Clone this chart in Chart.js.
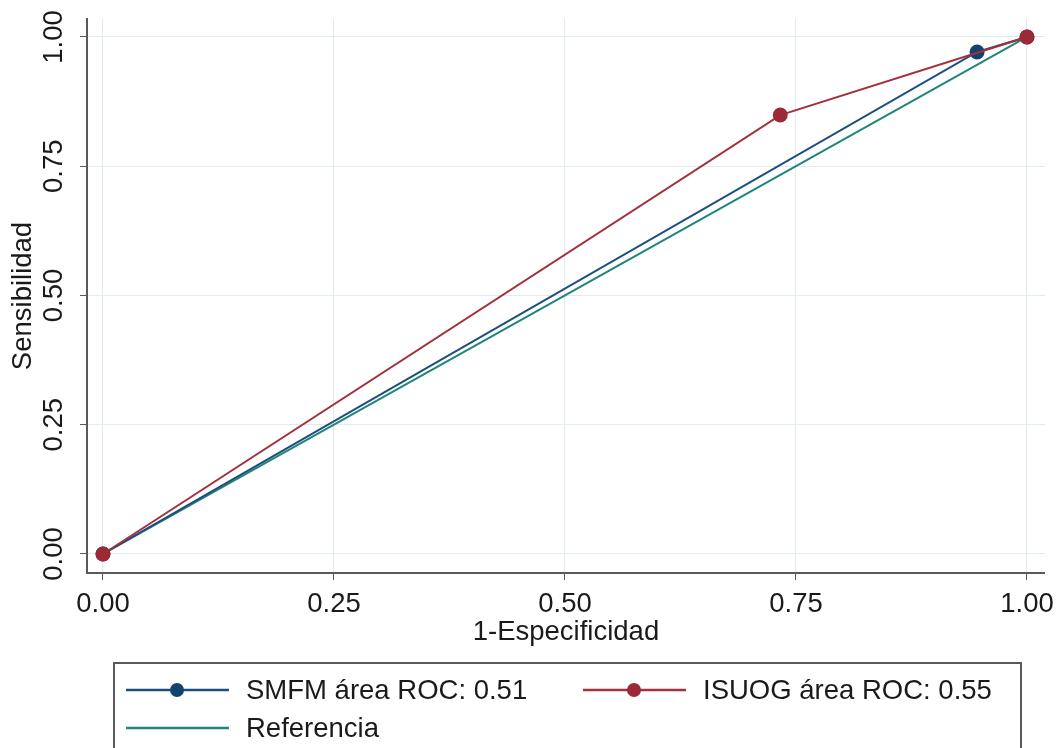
<!DOCTYPE html>
<html>
<head>
<meta charset="utf-8">
<script src="https://cdn.jsdelivr.net/npm/chart.js@4.4.1/dist/chart.umd.min.js"></script>
<style>
    html, body { margin: 0; padding: 0; background: #fff; }
    #rocChart { display: block; }
</style>
</head>
<body>
<canvas id="rocChart" width="1062" height="748"></canvas>
<script>
// curvas ROC (1-especificidad, sensibilidad)
const smfmX = [0, 0.946, 1];
const smfmY = [0, 0.971, 1];
const isuogX = [0, 0.733, 1];
const isuogY = [0, 0.849, 1];
const refX = [0, 1];
const refY = [0, 1];
const tickValues = [0, 0.25, 0.5, 0.75, 1];
const seriesLabels = ['SMFM área ROC: 0.51', 'ISUOG área ROC: 0.55', 'Referencia'];

const FONT = "'Liberation Sans', Arial, Helvetica, sans-serif";
const FS = 27.5;
const textColor = '#1a1a1a';
const blue = '#1d4f7e';
const red = '#a3303c';
const teal = '#1f8679';
const axisGray = '#5a5a5a';
const gridColor = '#e2ecef';

function toPoints(xs, ys) {
    return xs.map((x, i) => ({ x: x, y: ys[i] }));
}

// leyenda y etiquetas del eje Y dibujadas a mano
const extras = {
    id: 'extras',
    afterDraw(chart) {
        const ctx = chart.ctx;
        const yScale = chart.scales.y;
        ctx.save();
        ctx.fillStyle = textColor;
        ctx.font = FS + 'px ' + FONT;
        ctx.textAlign = 'center';
        ctx.textBaseline = 'middle';
        tickValues.forEach(v => {
            const py = yScale.getPixelForValue(v);
            ctx.save();
            ctx.translate(54, py);
            ctx.rotate(-Math.PI / 2);
            ctx.fillText(v.toFixed(2), 0, 0);
            ctx.restore();
        });

        // caja de leyenda
        ctx.strokeStyle = axisGray;
        ctx.lineWidth = 2;
        ctx.strokeRect(114, 663, 907, 100);

        const entries = [
            { ds: chart.data.datasets[0], x: 126, y: 690 },
            { ds: chart.data.datasets[1], x: 583, y: 690 },
            { ds: chart.data.datasets[2], x: 126, y: 728 }
        ];
        ctx.textAlign = 'left';
        entries.forEach(e => {
            ctx.strokeStyle = e.ds.borderColor;
            ctx.lineWidth = 2.5;
            ctx.beginPath();
            ctx.moveTo(e.x, e.y);
            ctx.lineTo(e.x + 103, e.y);
            ctx.stroke();
            if (e.ds.pointRadius > 0) {
                ctx.fillStyle = e.ds.pointBackgroundColor;
                ctx.beginPath();
                ctx.arc(e.x + 51, e.y, 7, 0, Math.PI * 2);
                ctx.fill();
            }
            ctx.fillStyle = textColor;
            ctx.fillText(e.ds.label, e.x + 120, e.y + 1);
        });
        ctx.restore();
    }
};

const ctxRoc = document.getElementById('rocChart').getContext('2d');
new Chart(ctxRoc, {
    type: 'scatter',
    data: {
        datasets: [
            {
                label: seriesLabels[0],
                data: toPoints(smfmX, smfmY),
                showLine: true,
                borderColor: blue,
                backgroundColor: blue,
                pointBackgroundColor: '#13426e',
                pointBorderWidth: 0,
                pointRadius: 7.5,
                borderWidth: 2,
                order: 2
            },
            {
                label: seriesLabels[1],
                data: toPoints(isuogX, isuogY),
                showLine: true,
                borderColor: red,
                backgroundColor: red,
                pointBackgroundColor: '#9b2a36',
                pointBorderWidth: 0,
                pointRadius: 7.5,
                borderWidth: 2,
                order: 1
            },
            {
                label: seriesLabels[2],
                data: toPoints(refX, refY),
                showLine: true,
                borderColor: teal,
                backgroundColor: teal,
                pointBackgroundColor: teal,
                pointRadius: 0,
                borderWidth: 2,
                order: 3
            }
        ]
    },
    options: {
        responsive: false,
        animation: false,
        devicePixelRatio: 1,
        layout: { padding: { top: 19, right: 14, left: 0, bottom: 100 } },
        scales: {
            x: {
                type: 'linear',
                min: -0.0173,
                max: 1.0194,
                afterBuildTicks: (scale) => { scale.ticks = tickValues.map(v => ({ value: v })); },
                afterFit: (scale) => { scale.height = 75; },
                grid: { color: gridColor, tickColor: axisGray, tickLength: 7, lineWidth: 1 },
                border: { color: axisGray, width: 2 },
                ticks: {
                    padding: 8,
                    color: textColor,
                    font: { size: FS, family: FONT },
                    maxRotation: 0,
                    autoSkip: false,
                    callback: (v) => Number(v).toFixed(2)
                },
                title: {
                    display: true,
                    text: '1-Especificidad',
                    color: textColor,
                    font: { size: FS, family: FONT },
                    padding: { top: 0, bottom: -1 }
                }
            },
            y: {
                type: 'linear',
                min: -0.0368,
                max: 1.0348,
                afterBuildTicks: (scale) => { scale.ticks = tickValues.map(v => ({ value: v })); },
                afterFit: (scale) => { scale.width = 87; },
                grid: { color: gridColor, tickColor: axisGray, tickLength: 7, lineWidth: 1 },
                border: { color: axisGray, width: 2 },
                ticks: { display: false },
                title: {
                    display: true,
                    text: 'Sensibilidad',
                    color: textColor,
                    font: { size: FS, family: FONT },
                    padding: { top: 7, bottom: 0 }
                }
            }
        },
        plugins: {
            legend: { display: false },
            tooltip: { enabled: false }
        }
    },
    plugins: [extras]
});
</script>
</body>
</html>
